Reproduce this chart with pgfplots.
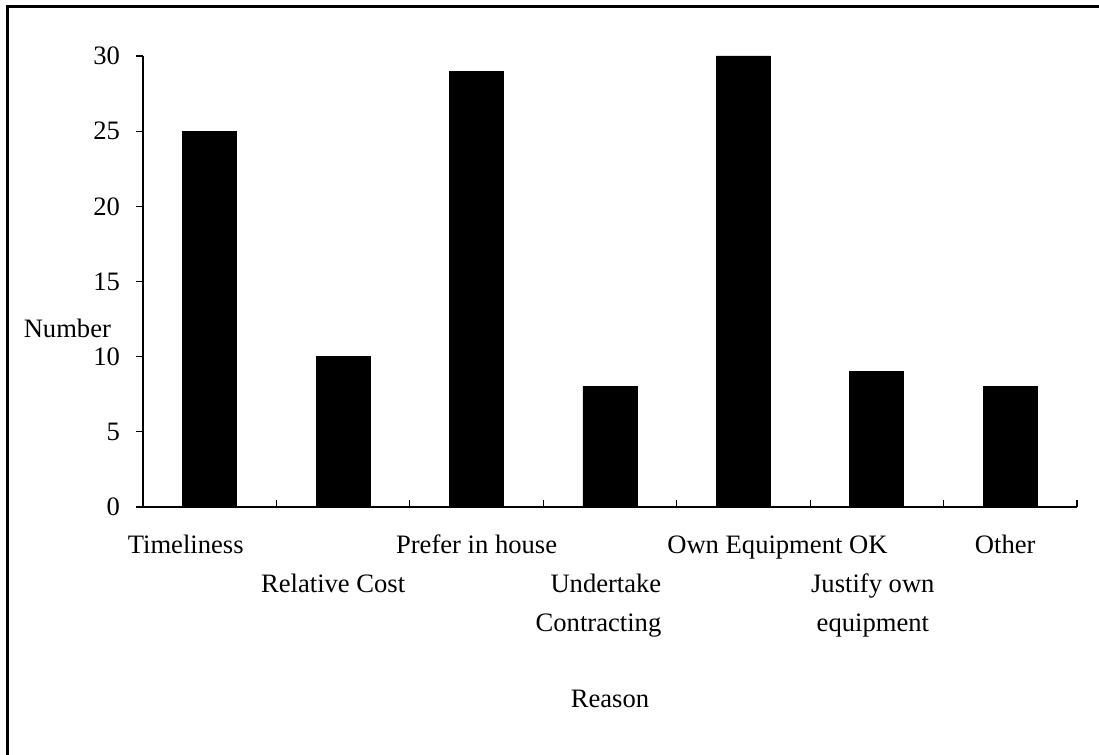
\documentclass[border=0pt]{standalone}
\usepackage{fontspec}
\setmainfont{Liberation Serif}
\usepackage{pgfplots}
\pgfplotsset{compat=1.18}
\newcommand{\sh}[2]{\makebox[0pt]{\hspace*{#1}#2}}
\newcommand{\rowtwo}[1]{\raisebox{-19.5pt}{#1}}
\begin{document}
\begin{tikzpicture}[x=1pt,y=1pt,font=\fontsize{13.3}{19.5}\selectfont]
\useasboundingbox (0,0) rectangle (549.5,377.5);
\draw[line width=1.5pt] (3.5,0) -- (3.5,374) -- (549.5,374);
\begin{axis}[
  at={(71.5pt,124pt)}, anchor=south west,
  scale only axis, width=467pt, height=225.5pt,
  xmin=-0.5, xmax=6.5, ymin=0, ymax=30,
  axis x line*=bottom, axis y line*=left,
  x axis line style={-}, y axis line style={-},
  every outer x axis line/.append style={-},
  every outer y axis line/.append style={-},
  axis line style={line width=0.6pt},
  tick style={line width=0.6pt, black},
  tick align=inside,
  major tick length=3.5pt, minor tick length=3.5pt,
  ytick={0,5,10,15,20,25,30},
  ytick style={xshift=-3.5pt},
  yticklabel style={xshift=-8pt},
  /pgf/number format/assume math mode=true,
  xtick={0,1,2,3,4,5,6},
  major x tick style={draw=none},
  minor x tick style={yshift=3.5pt},
  minor xtick={-0.5,0.5,1.5,2.5,3.5,4.5,5.5,6.5},
  xticklabel style={anchor=base, yshift=-20pt, inner sep=0pt},
  xticklabels={
    {\sh{-24pt}{Timeliness}},
    {\rowtwo{\sh{-10pt}{Relative Cost}}},
    {\sh{0pt}{Prefer in house}},
    {\rowtwo{\sh{-11.5pt}{\begin{tabular}[t]{@{}r@{}}Undertake\\Contracting\end{tabular}}}},
    {\sh{34pt}{Own Equipment OK}},
    {\rowtwo{\sh{-4pt}{\begin{tabular}[t]{@{}c@{}}Justify own\\equipment\end{tabular}}}},
    {\sh{-5pt}{Other}}
  },
  xlabel={Reason}, ylabel={Number},
  every axis x label/.style={at={(rel axis cs:0.5,0)}, anchor=base, yshift=-100.5pt},
  every axis y label/.style={at={(rel axis cs:0,0.397)}, anchor=east, xshift=-12.5pt},
  ybar, bar width=27pt,
]
\addplot[fill=black, draw=black] coordinates {(0,25) (1,10) (2,29) (3,8) (4,30) (5,9) (6,8)};
\end{axis}
\end{tikzpicture}
\end{document}
